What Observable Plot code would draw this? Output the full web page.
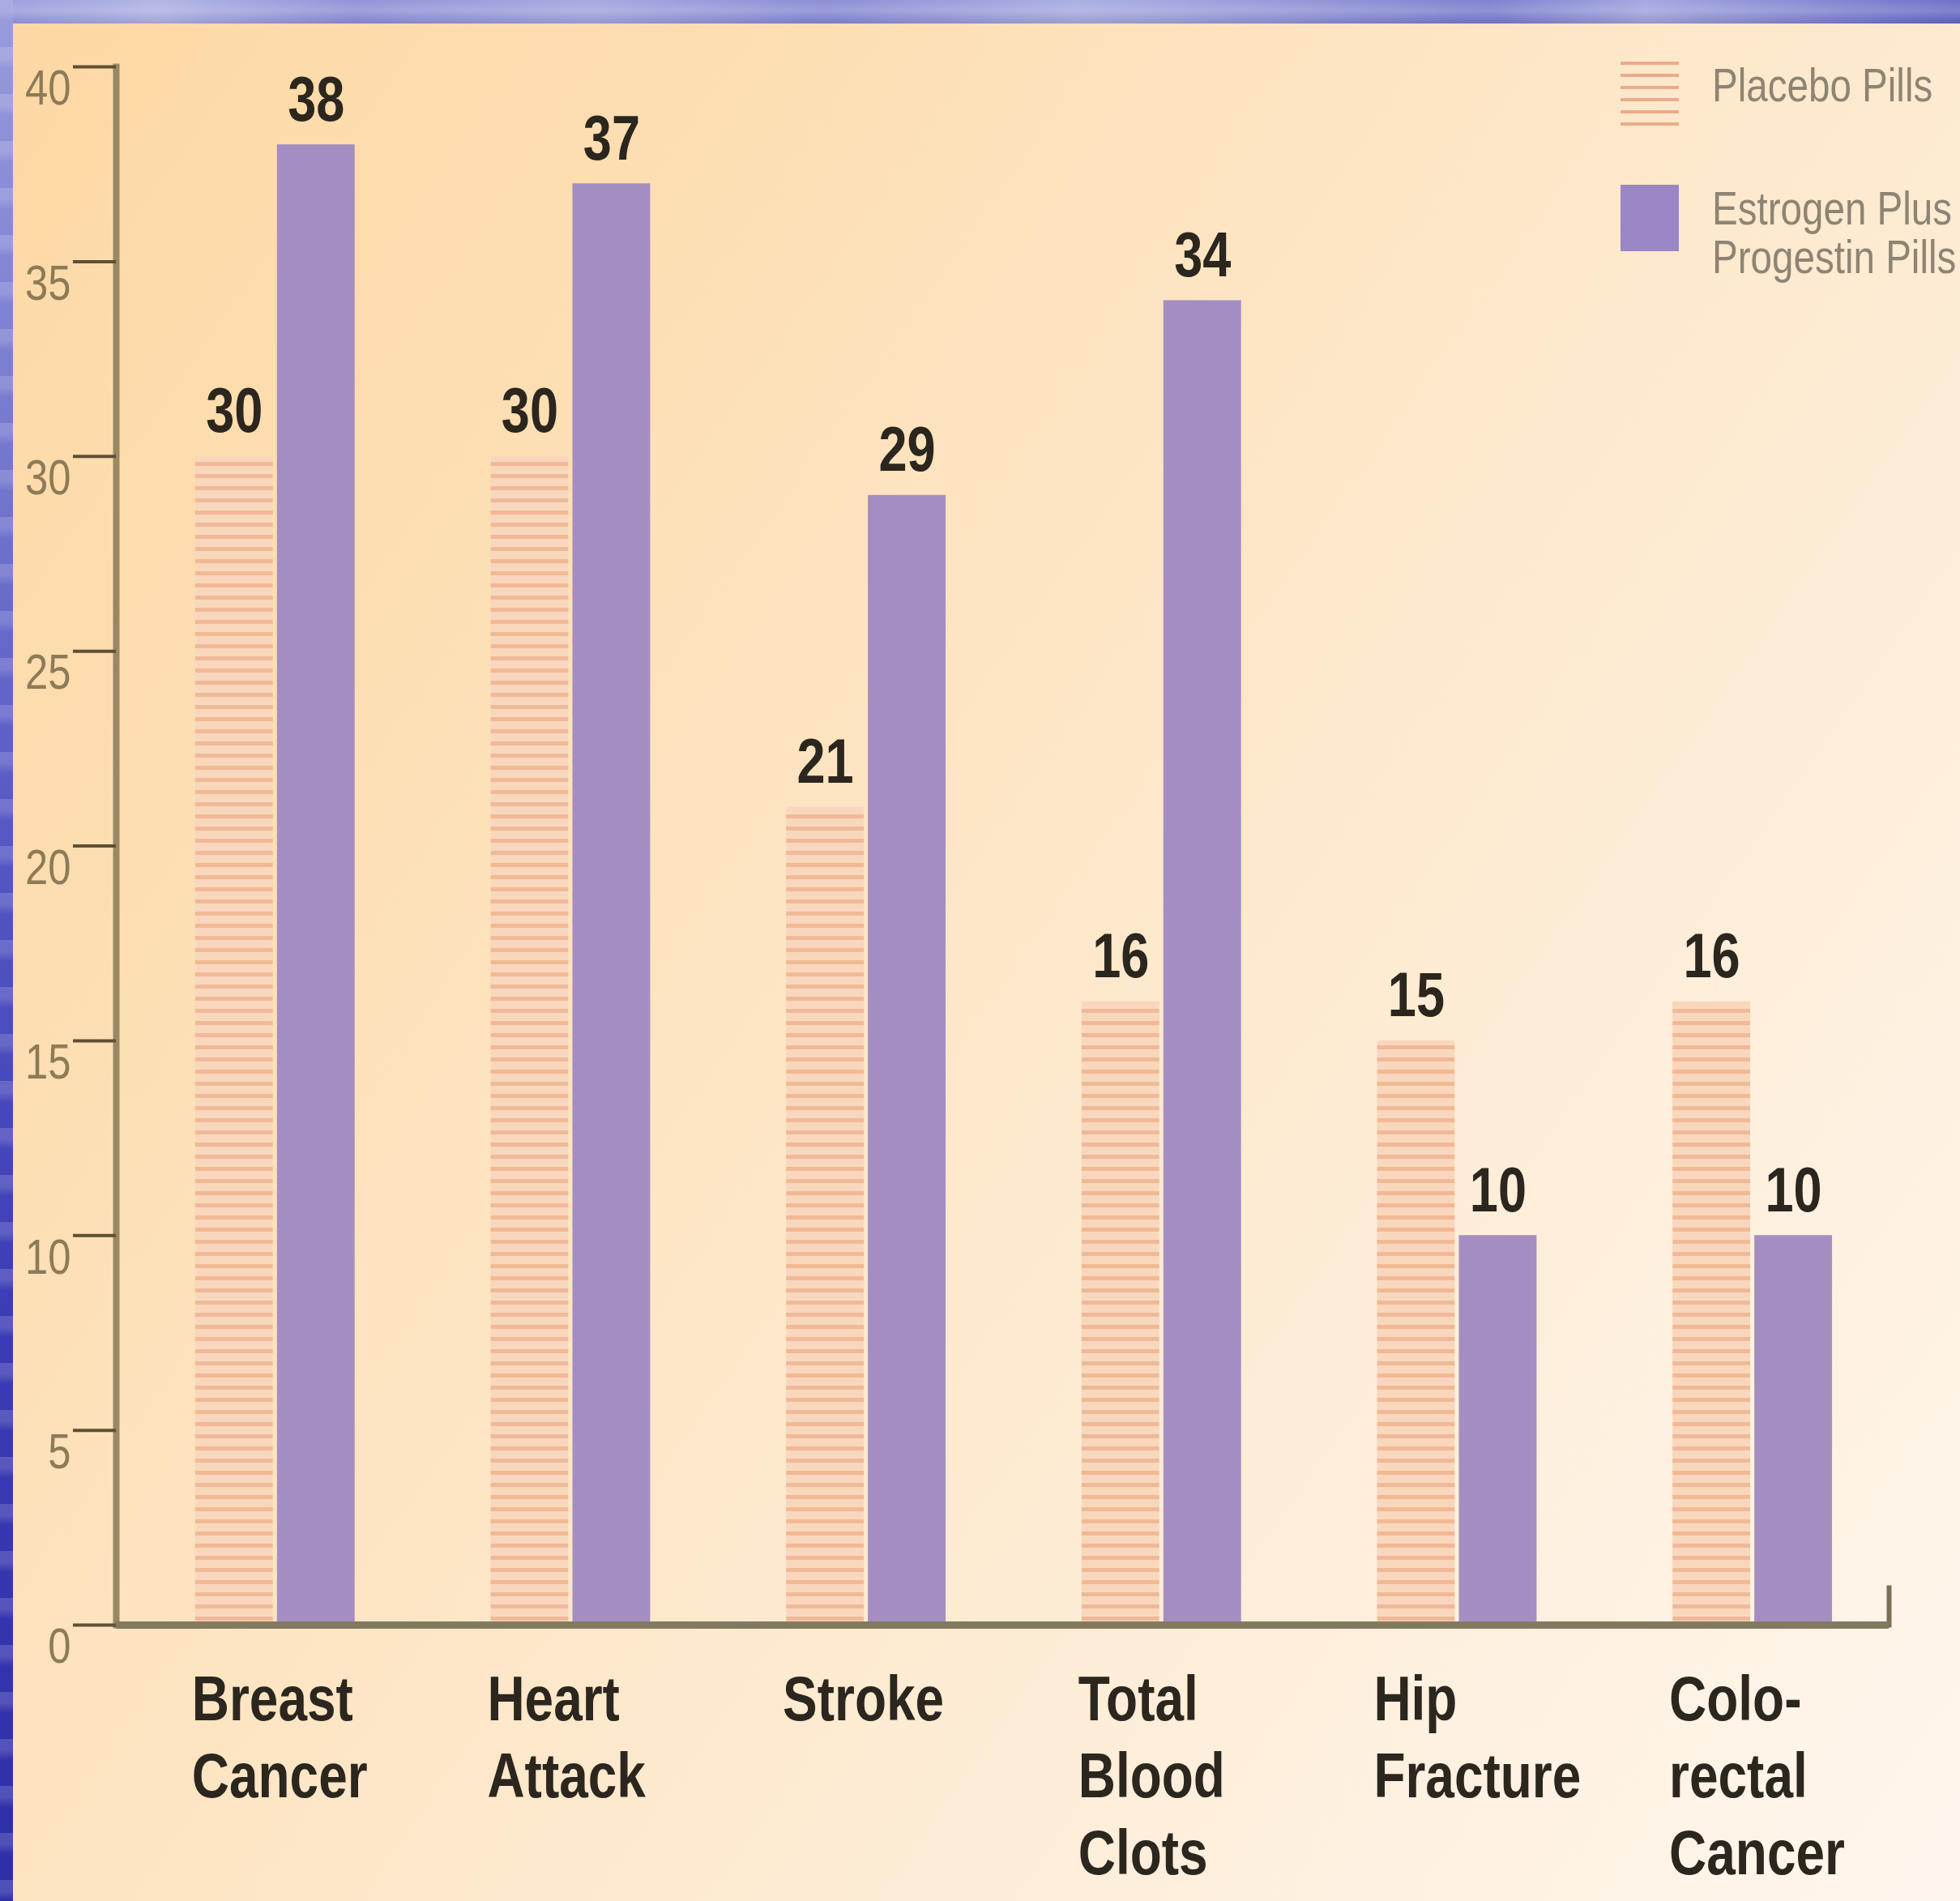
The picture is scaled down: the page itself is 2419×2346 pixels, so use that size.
<!DOCTYPE html>
<html>
<head>
<meta charset="utf-8">
<script src="https://cdn.jsdelivr.net/npm/d3@7"></script>
<script src="https://cdn.jsdelivr.net/npm/@observablehq/plot@0.6"></script>
<style>
  html, body { margin: 0; padding: 0; width: 2419px; height: 2346px; overflow: hidden; }
  body { position: relative; background: #4546bd; font-family: "Liberation Sans", Arial, sans-serif; }
  #topband { position: absolute; left: 0; top: 0; width: 2419px; height: 29px;
    background:
      linear-gradient(180deg, rgba(255,255,255,0.10) 0%, rgba(255,255,255,0.22) 45%, rgba(0,0,0,0.05) 100%),
      linear-gradient(90deg, #8f92d8 0%, #a9ace1 8%, #8587d3 18%, #9c9fdc 30%, #7f81d0 42%, #a2a5de 55%, #8a8cd4 66%, #7073c9 76%, #9a9ddb 84%, #5e60c2 100%); }
  #leftband { position: absolute; left: 0; top: 0; width: 16px; height: 2346px;
    background:
      repeating-linear-gradient(180deg, rgba(255,255,255,0.16) 0px, rgba(255,255,255,0.16) 14px, rgba(255,255,255,0) 26px, rgba(255,255,255,0) 58px),
      linear-gradient(180deg, #9a9cdc 0%, #7b7dd0 20%, #5556c4 45%, #3b3bb5 70%, #2e2ea9 100%); }
  #panel { position: absolute; left: 16px; top: 29px; width: 2403px; height: 2317px;
    background: linear-gradient(125deg, #fdd8a4 0%, #fddfb4 25%, #fde7c9 50%, #feefdc 75%, #fff6ee 100%); }
  #chart { position: absolute; left: 0; top: 0; }
  .legend-item { position: absolute; }
  .legend-text { position: absolute; left: 2113px; font-size: 58px; line-height: 60px; color: #8e8473;
    white-space: pre; transform: scaleX(0.82); transform-origin: 0 0; }
</style>
</head>
<body>
<div id="panel"></div>
<div id="topband"></div>
<div id="leftband"></div>
<div id="chart"></div>
<div id="legend"></div>
<script>
// ---- data ----
const categories = ["Breast\nCancer", "Heart\nAttack", "Stroke", "Total\nBlood\nClots", "Hip\nFracture", "Colo-\nrectal\nCancer"];
const placebo = [30, 30, 21, 16, 15, 16];
const estrogen = [38, 37, 29, 34, 10, 10];
const yTicks = [0, 5, 10, 15, 20, 25, 30, 35, 40];
const seriesNames = ["Placebo Pills", "Estrogen Plus\nProgestin Pills"];

const rows = categories.map((c, i) => ({category: c, placebo: placebo[i], estrogen: estrogen[i]}));

const FONT = "'Liberation Sans', Arial, sans-serif";
const PURPLE = "#a48ec1";
const AXIS_TICK = "#5f4f35";
const TICK_TEXT = "#8d7b58";
const LABEL = "#2b261e";

const chart = Plot.plot({
  width: 2419,
  height: 2346,
  marginTop: 82,
  marginBottom: 341,
  marginLeft: 143,
  marginRight: 88,
  style: {background: "transparent", fontFamily: FONT, overflow: "visible"},
  x: {domain: categories, paddingInner: 0.46, paddingOuter: 0.23, align: 0.583, round: false, label: null},
  y: {domain: [0, 40], label: null},
  marks: [
    Plot.barY(rows, {x: "category", y: "placebo", fill: "url(#placeboStripes)", insetRight: 101}),
    Plot.barY(rows, {x: "category", y: "estrogen", fill: PURPLE, insetLeft: 101}),
    Plot.frame({anchor: "left", stroke: "#9a8864", strokeWidth: 8}),
    Plot.frame({anchor: "right", insetTop: 1877, stroke: "#7a6f55", strokeWidth: 6}),
    Plot.ruleY([0], {stroke: "#827a5f", strokeWidth: 9}),
    // tick marks only
    Plot.axisY({ticks: yTicks, tickSize: 53, stroke: AXIS_TICK, strokeWidth: 4, tickFormat: () => ""}),
    // tick labels only, hanging just below their tick
    Plot.axisY({ticks: yTicks, tickSize: 53, tickPadding: 3, dy: 27, strokeOpacity: 0, fontSize: 62, fill: TICK_TEXT, tickFormat: d => String(d)}),
    Plot.axisX({tickSize: 0, tickPadding: 50, textAnchor: "start", dx: -103, fontSize: 78, fontWeight: "bold", lineHeight: 1.22, fill: LABEL}),
    Plot.text(rows, {x: "category", y: "placebo", text: "placebo", dx: -50.5, dy: -30, lineAnchor: "bottom", fontSize: 77, fontWeight: "bold", fill: LABEL}),
    Plot.text(rows, {x: "category", y: "estrogen", text: "estrogen", dx: 50.5, dy: -30, lineAnchor: "bottom", fontSize: 77, fontWeight: "bold", fill: LABEL})
  ]
});

// narrow (condensed) lettering like the original: compress every text horizontally about its anchor
chart.querySelectorAll("text").forEach(t => {
  const tr = t.getAttribute("transform") || "";
  t.setAttribute("transform", tr + " scale(0.82,1)");
});

// stripe pattern for the placebo bars
const ns = "http://www.w3.org/2000/svg";
const defs = document.createElementNS(ns, "defs");
defs.innerHTML = '<pattern id="placeboStripes" patternUnits="userSpaceOnUse" width="20" height="15">' +
  '<rect width="20" height="15" fill="#f9d7bd"/><rect width="20" height="5" fill="#f1b996"/></pattern>';
chart.prepend(defs);
document.getElementById("chart").appendChild(chart);

// legend (overlaid top right, as in the original)
const legend = document.getElementById("legend");
const sw1 = document.createElement("div");
sw1.className = "legend-item";
Object.assign(sw1.style, {left: "2000px", top: "76px", width: "72px", height: "80px",
  background: "repeating-linear-gradient(180deg, #eaab8c 0px, #eaab8c 4px, rgba(0,0,0,0) 4px, rgba(0,0,0,0) 15px)"});
legend.appendChild(sw1);
const sw2 = document.createElement("div");
sw2.className = "legend-item";
Object.assign(sw2.style, {left: "2000px", top: "228px", width: "72px", height: "82px", background: "#9b87c6"});
legend.appendChild(sw2);
const t1 = document.createElement("div");
t1.className = "legend-text"; t1.style.top = "75px"; t1.textContent = seriesNames[0];
legend.appendChild(t1);
const t2 = document.createElement("div");
t2.className = "legend-text"; t2.style.top = "227px"; t2.textContent = seriesNames[1];
legend.appendChild(t2);
</script>
</body>
</html>
